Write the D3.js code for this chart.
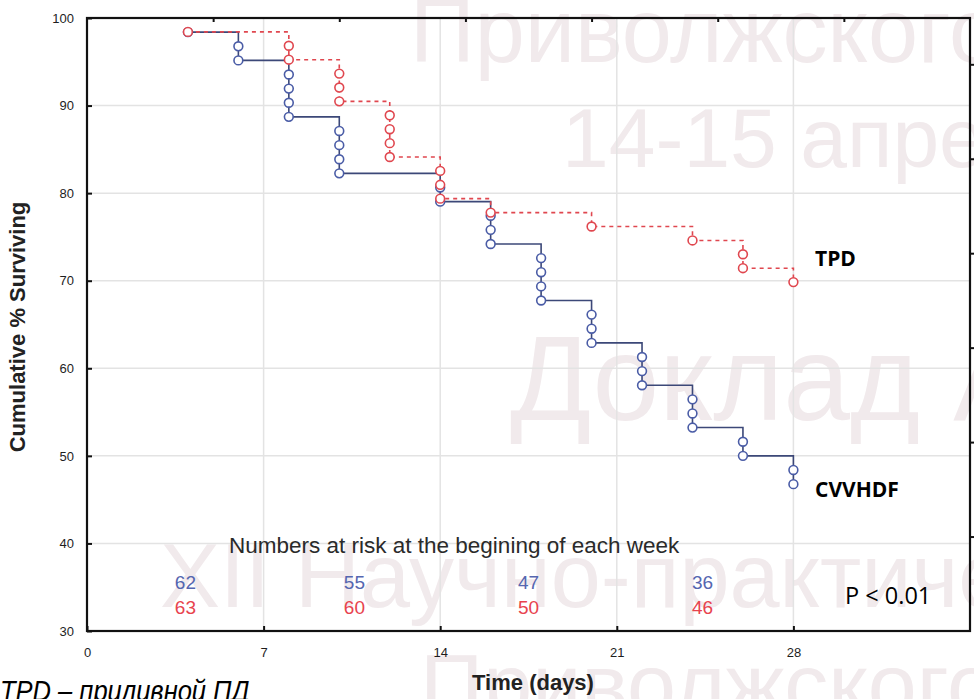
<!DOCTYPE html>
<html>
<head>
<meta charset="utf-8">
<script src="https://cdn.jsdelivr.net/npm/d3@7"></script>
<style>
body { margin: 0; background: #fff; }
svg text { font-family: "Liberation Sans", Arial, sans-serif; }
</style>
</head>
<body>
<svg id="chart" width="974" height="699"></svg>
<script>
// values: each entry is one event (one circle)
var cvvhdfDays = [4, 6, 6, 8, 8, 8, 8, 10, 10, 10, 10, 14, 14, 16, 16, 16, 18, 18, 18, 18, 20, 20, 20, 22, 22, 22, 24, 24, 24, 26, 26, 28, 28];
var cvvhdfSurv = [98.39, 96.77, 95.16, 93.55, 91.94, 90.32, 88.71, 87.10, 85.48, 83.87, 82.26, 80.65, 79.03, 77.42, 75.81, 74.19,
                  72.58, 70.97, 69.35, 67.74, 66.13, 64.52, 62.90, 61.29, 59.68, 58.06, 56.45, 54.84, 53.23, 51.61, 50.00, 48.39, 46.77];
var tpdDays = [4, 8, 8, 10, 10, 10, 12, 12, 12, 12, 14, 14, 14, 16, 20, 24, 26, 26, 28];
var tpdSurv = [98.41, 96.83, 95.24, 93.65, 92.06, 90.48, 88.89, 87.30, 85.71, 84.13, 82.54, 80.95, 79.37, 77.78, 76.19, 74.60, 73.02, 71.43, 69.84];

var xTicks = [0, 7, 14, 21, 28];
var yTicks = [30, 40, 50, 60, 70, 80, 90, 100];
var topTicks = [5, 10, 15, 20, 25, 30];
var rightTicks = [1, 2, 3, 4, 5, 6];

var riskCvvhdf = [62, 55, 47, 36];
var riskTpd = [63, 60, 50, 46];
var riskAt = [3.9, 10.6, 17.5, 24.4];   // day where each week's numbers sit

var blue = "#4a5ca6", blueLine = "#3c4878", red = "#e0474f";

var svg = d3.select("#chart");
var m = { left: 87, right: 970, top: 18, bottom: 631 };

var x = d3.scaleLinear().domain([0, 35]).range([m.left, m.right]);
var y = d3.scaleLinear().domain([30, 100]).range([m.bottom, m.top]);
var yRight = d3.scaleLinear().domain([0, 6.49]).range([m.bottom, m.top]);

// slide watermark behind the chart
var wm = svg.append("g").attr("fill", "#f1eaec");
wm.append("text").attr("x", 410).attr("y", 62).style("font-size", "90px").text("Приволжского");
wm.append("text").attr("x", 562).attr("y", 167).style("font-size", "84px").text("14-15 апре");
wm.append("text").attr("x", 510).attr("y", 420).style("font-size", "120px").text("Доклад А");
wm.append("text").attr("x", 160).attr("y", 607).style("font-size", "90px").text("XII Научно-практиче");
wm.append("text").attr("x", 420).attr("y", 715).style("font-size", "88px").text("Приволжского");

// grid
var grid = svg.append("g").attr("stroke", "#e3e3e3").attr("stroke-width", 1.5);
grid.selectAll(".gx").data(xTicks.slice(1)).enter().append("line")
    .attr("x1", d => x(d)).attr("x2", d => x(d)).attr("y1", m.top).attr("y2", m.bottom);
grid.selectAll(".gy").data(yTicks.slice(1, -1)).enter().append("line")
    .attr("y1", d => y(d)).attr("y2", d => y(d)).attr("x1", m.left).attr("x2", m.right);

// axes
var axisStyle = function(g) {
    g.select(".domain").remove();
    g.selectAll(".tick line").attr("stroke", "#111").attr("stroke-width", 2);
    g.selectAll(".tick text").attr("fill", "#1e1e1e").style("font-size", "13px")
        .style("font-family", "'Liberation Sans', Arial, sans-serif");
};
svg.append("g").attr("transform", "translate(0," + m.bottom + ")")
    .call(d3.axisBottom(x).tickValues(xTicks).tickSize(-5).tickPadding(16.5)).call(axisStyle);
svg.append("g").attr("transform", "translate(" + m.left + ",0)")
    .call(d3.axisLeft(y).tickValues(yTicks).tickSize(-5).tickPadding(13)).call(axisStyle);
svg.append("g").attr("transform", "translate(0," + m.top + ")")
    .call(d3.axisTop(x).tickValues(topTicks).tickSize(-4).tickFormat("")).call(axisStyle);
svg.append("g").attr("transform", "translate(" + m.right + ",0)")
    .call(d3.axisRight(yRight).tickValues(rightTicks).tickSize(4).tickFormat("")).call(axisStyle);

svg.append("rect").attr("x", m.left).attr("y", m.top)
    .attr("width", m.right - m.left).attr("height", m.bottom - m.top)
    .attr("fill", "none").attr("stroke", "#111").attr("stroke-width", 2.2);

// curves
var line = d3.line().x(d => x(d[0])).y(d => y(d[1])).curve(d3.curveStepAfter);
var cv = cvvhdfDays.map((d, i) => [d, cvvhdfSurv[i]]);
var tp = tpdDays.map((d, i) => [d, tpdSurv[i]]);

svg.append("path").datum(cv).attr("d", line)
    .attr("fill", "none").attr("stroke", blueLine).attr("stroke-width", 1.6);
svg.append("path").datum(tp).attr("d", line)
    .attr("fill", "none").attr("stroke", red).attr("stroke-width", 1.6).attr("stroke-dasharray", "4,4");

svg.append("g").selectAll("circle").data(cv).enter().append("circle")
    .attr("cx", d => x(d[0])).attr("cy", d => y(d[1])).attr("r", 4.4)
    .attr("fill", "#fff").attr("stroke", blue).attr("stroke-width", 1.6);
svg.append("g").selectAll("circle").data(tp).enter().append("circle")
    .attr("cx", d => x(d[0])).attr("cy", d => y(d[1])).attr("r", 4.4)
    .attr("fill", "#fff").attr("stroke", red).attr("stroke-width", 1.6);

// labels
svg.append("text").attr("x", 815).attr("y", 266).style("font-family", "'Open Sans', sans-serif")
    .style("font-weight", "bold").style("font-size", "21px").attr("fill", "#000").text("TPD");
svg.append("text").attr("x", 815).attr("y", 497).style("font-family", "'Open Sans', sans-serif")
    .style("font-weight", "bold").style("font-size", "21px").attr("fill", "#000").text("CVVHDF");
svg.append("text").attr("x", 845).attr("y", 604).style("font-family", "'Open Sans', sans-serif")
    .style("font-size", "23.5px").attr("fill", "#000").text("P < 0.01");

svg.append("text").attr("x", 229).attr("y", 553).style("font-size", "22.5px").attr("fill", "#2a2a2a")
    .text("Numbers at risk at the begining of each week");
svg.append("g").selectAll("text").data(riskCvvhdf).enter().append("text")
    .attr("x", (d, i) => x(riskAt[i])).attr("y", 589).attr("text-anchor", "middle")
    .style("font-size", "19px").attr("fill", "#5566b0").text(d => d);
svg.append("g").selectAll("text").data(riskTpd).enter().append("text")
    .attr("x", (d, i) => x(riskAt[i])).attr("y", 614).attr("text-anchor", "middle")
    .style("font-size", "19px").attr("fill", "#e8434e").text(d => d);

svg.append("text").attr("transform", "translate(25,327) rotate(-90)").attr("text-anchor", "middle")
    .style("font-size", "22px").style("font-weight", "bold").attr("fill", "#222")
    .text("Cumulative % Surviving");
svg.append("text").attr("x", 533).attr("y", 690).attr("text-anchor", "middle")
    .style("font-size", "22px").style("font-weight", "bold").attr("fill", "#222")
    .text("Time (days)");

svg.append("text").attr("transform", "translate(0,701) scale(0.88,1)").style("font-style", "italic")
    .style("font-size", "29px").attr("fill", "#000").text("TPD – приливной ПД");
</script>
</body>
</html>
